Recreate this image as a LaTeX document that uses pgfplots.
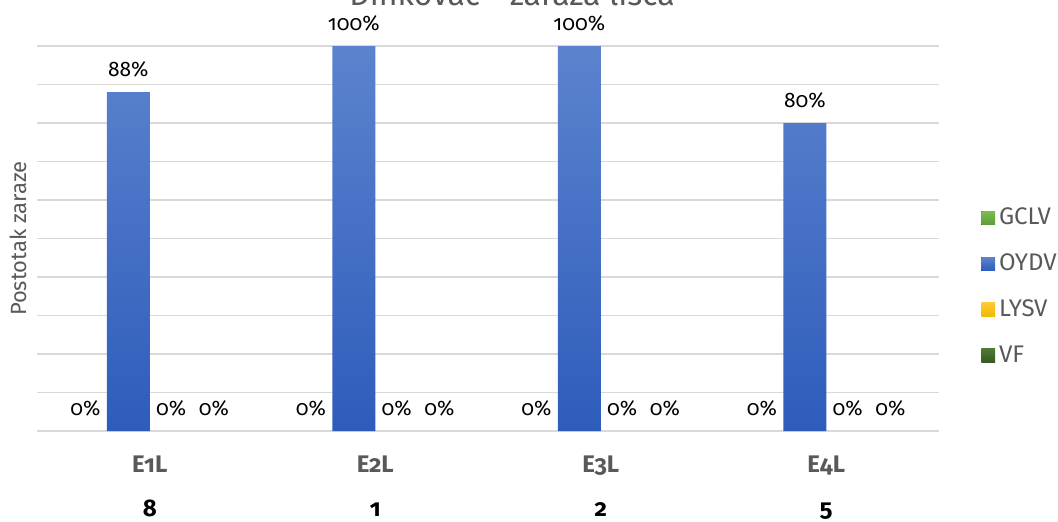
\documentclass[border=0pt]{standalone}
\usepackage{fontspec}
\setmainfont{Fira Sans}[Numbers=OldStyle]
\usepackage{pgfplots}
\pgfplotsset{compat=1.18}

\definecolor{gridgray}{HTML}{D9D9D9}
\definecolor{txtgray}{HTML}{595959}
\definecolor{gclvtop}{HTML}{7CBB4F}
\definecolor{gclvbot}{HTML}{5E9C38}
\definecolor{oydvtop}{HTML}{5B83CE}
\definecolor{oydvbot}{HTML}{2E5CBB}
\definecolor{lysvtop}{HTML}{FFC935}
\definecolor{lysvbot}{HTML}{F2B800}
\definecolor{vftop}{HTML}{4E7A32}
\definecolor{vfbot}{HTML}{385A22}

\begin{document}
\begin{tikzpicture}
\useasboundingbox (0,0) rectangle (529pt,260.5pt);
% title, cut off at the top as in the original
\node[anchor=base, font=\fontsize{16}{19}\selectfont, text=txtgray]
  at (256pt,258pt) {Dinkovac - zaraza lišća};
\begin{axis}[
    at={(18.5pt,45pt)}, anchor=south west,
    width=451pt, height=192.5pt, scale only axis,
    ybar=0pt, bar width=0.19,
    xmin=-0.5, xmax=3.5, ymin=0, ymax=100,
    clip=false,
    axis x line*=bottom, axis y line*=left,
    x axis line style={gridgray, line width=0.8pt, -},
    y axis line style={draw=none},
    xtick={0,1,2,3},
    xticklabels={{\textcolor{txtgray}{E1L}\\[8pt]8},
                 {\textcolor{txtgray}{E2L}\\[8pt]1},
                 {\textcolor{txtgray}{E3L}\\[8pt]2},
                 {\textcolor{txtgray}{E4L}\\[8pt]5}},
    xticklabel style={align=center, font=\fontsize{12}{14}\selectfont\bfseries, yshift=-9pt},
    major tick length=0pt,
    ytick={0,10,...,100}, yticklabels={},
    ymajorgrids, grid style={gridgray, line width=0.6pt},
    ylabel={Postotak zaraze},
    every axis y label/.style={at={(axis description cs:-0.021,0.5)}, rotate=90, anchor=center,
      font=\fontsize{11}{13}\selectfont, text=txtgray},
    /pgf/number format/assume math mode=true,
    nodes near coords={\pgfmathprintnumber{\pgfplotspointmeta}\%},
    every node near coord/.append style={font=\fontsize{10.5}{12}\selectfont, text=black, yshift=4pt},
    legend style={at={(1.04,0.375)}, anchor=west, draw=none, fill=none,
      font=\fontsize{12}{14}\selectfont, text=txtgray, row sep=9pt},
    legend cell align=left,
    legend image code/.code={\fill[#1] (0pt,-3.4pt) rectangle (6.8pt,3.4pt);},
]
\addplot[draw=none, top color=gclvtop, bottom color=gclvbot] coordinates {(0,0) (1,0) (2,0) (3,0)};
\addlegendentry{GCLV}
\addplot[draw=none, top color=oydvtop, bottom color=oydvbot] coordinates {(0,88) (1,100) (2,100) (3,80)};
\addlegendentry{OYDV}
\addplot[draw=none, top color=lysvtop, bottom color=lysvbot] coordinates {(0,0) (1,0) (2,0) (3,0)};
\addlegendentry{LYSV}
\addplot[draw=none, top color=vftop, bottom color=vfbot] coordinates {(0,0) (1,0) (2,0) (3,0)};
\addlegendentry{VF}
\end{axis}
\end{tikzpicture}
\end{document}
